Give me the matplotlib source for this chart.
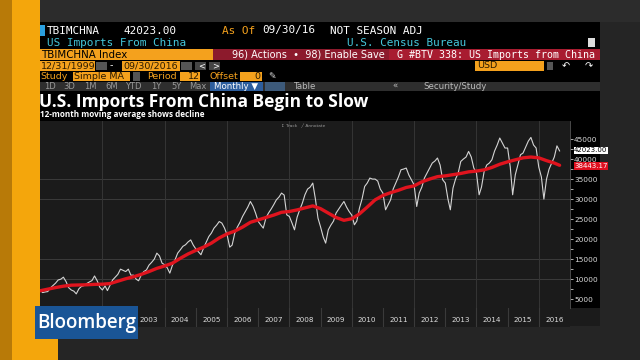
import matplotlib.pyplot as plt
import matplotlib.dates as mdates
import numpy as np
import pandas as pd
from matplotlib.patches import Rectangle

# monthly US imports from China (mn USD), Jan 2000 - Sep 2016
imp_2000 = [7300, 6650, 6800, 6900, 7800, 8400, 9000, 9800, 10000, 10500, 9400, 7900]
imp_2001 = [7300, 7000, 6325, 7600, 8200, 8400, 8900, 9300, 9650, 10800, 9600, 8000]
imp_2002 = [7300, 8300, 7150, 8500, 9800, 10500, 11200, 12500, 12200, 11900, 12500, 11000]
imp_2003 = [11000, 10000, 9600, 11000, 11900, 12300, 13500, 14200, 15000, 16500, 15800, 14000]
imp_2004 = [13600, 12800, 11500, 13500, 14800, 16500, 17300, 18200, 18600, 19300, 19800, 18500]
imp_2005 = [17500, 16800, 16100, 17800, 19200, 20650, 21500, 22750, 23500, 24400, 24000, 22800]
imp_2006 = [21100, 18000, 18500, 21500, 23000, 24200, 25650, 26800, 28000, 29400, 28200, 26500]
imp_2007 = [24400, 23500, 22750, 25250, 26500, 27500, 28575, 29800, 30500, 31500, 31000, 26075]
imp_2008 = [25650, 24000, 22325, 25500, 27325, 29000, 31075, 32500, 33000, 34000, 30000, 25250]
imp_2009 = [23000, 20500, 19000, 22325, 23500, 24500, 26500, 27500, 28500, 29400, 28000, 26900]
imp_2010 = [26000, 23575, 24500, 27750, 30000, 33150, 34000, 35250, 35000, 35000, 34500, 32500]
imp_2011 = [31500, 27325, 28500, 29825, 32500, 34000, 35500, 37325, 37500, 37750, 36000, 34825]
imp_2012 = [33575, 28150, 31500, 33000, 35250, 36500, 37750, 39000, 39500, 40250, 38500, 34825]
imp_2013 = [34000, 30000, 27325, 32750, 35000, 36500, 39400, 40000, 40500, 41900, 40500, 37750]
imp_2014 = [36500, 31075, 33000, 36900, 38500, 39000, 39825, 42000, 43500, 45250, 44000, 42750]
imp_2015 = [42750, 38000, 31075, 36075, 38500, 41075, 41500, 43000, 44500, 45400, 43500, 42750]
imp_2016 = [38000, 35500, 30000, 35000, 37500, 39000, 40500, 43300, 42023]

# 12-month simple MA, read quarterly (Jan/Apr/Jul/Oct) + last value Sep 2016
ma_vals = [7100, 7500, 7900, 8250, 8500, 8550, 8600, 8700,
           8750, 8900, 9500, 10100, 10600, 11200, 11900, 12700,
           13300, 14000, 15200, 16300, 17200, 18000, 19000, 20300,
           21300, 22000, 23000, 24200, 24800, 25400, 26000, 26700,
           26900, 27300, 27800, 28300, 27600, 26500, 25400, 24700,
           25100, 26300, 28000, 29800, 30900, 31600, 32200, 32900,
           33300, 34300, 35000, 35600, 35800, 36100, 36400, 36800,
           37000, 37300, 37900, 38700, 39300, 39800, 40300, 40500,
           40300, 39600, 39000, 38443]

years = list(range(2000, 2017))
shown_years = list(range(2003, 2017))   # 2000-2002 sit under the logo
ygrid = [10000, 15000, 30000, 35000]
yticks = [5000, 10000, 15000, 20000, 25000, 30000, 35000, 40000, 45000]

imports = (imp_2000 + imp_2001 + imp_2002 + imp_2003 + imp_2004 + imp_2005 + imp_2006 + imp_2007
           + imp_2008 + imp_2009 + imp_2010 + imp_2011 + imp_2012 + imp_2013 + imp_2014 + imp_2015 + imp_2016)
months = pd.date_range('2000-01-01', periods=len(imports), freq='MS')
ma_dates = list(pd.date_range('2000-01-01', '2016-07-01', freq='QS-JAN')) + [pd.Timestamp('2016-09-01')]

W, H = 640, 360
fig = plt.figure(figsize=(6.4, 3.6), dpi=100)
fig.patch.set_facecolor('#252525')

# background / terminal layer (pixel coords)
ov = fig.add_axes([0, 0, 1, 1], zorder=0)
ov.set_xlim(0, W)
ov.set_ylim(H, 0)
ov.axis('off')

def box(x0, y0, x1, y1, c, a=ov):
    a.add_patch(Rectangle((x0, y0), x1 - x0, y1 - y0, color=c, lw=0))

def txt(x, y, s, c='white', size=7, fam='DejaVu Sans', a=ov, **kw):
    a.text(x, y, s, color=c, fontsize=size, family=fam, va='center', **kw)

box(0, 0, 12, H, '#b87a08')
box(12, 0, 40, H, '#f4a60c')
box(40, 338, 58, H, '#f4a60c')
box(40, 0, 640, 22, '#2c2c2c')
box(40, 22, 600, 326, 'black')

mono = 'DejaVu Sans Mono'
box(40, 25, 45, 36, '#2aa0e0')
txt(47, 30.5, 'TBIMCHNA', size=7.9, fam=mono)
txt(124, 30.5, '42023.00', size=7.9, fam=mono)
txt(222, 30.5, 'As Of', '#f4a11d', size=7.9, fam=mono)
txt(262, 30.5, '09/30/16', size=7.9, fam=mono)
txt(330, 30.5, 'NOT SEASON ADJ', size=7.9, fam=mono)
txt(47, 43, 'US Imports From China', '#45c8dc', size=7.9, fam=mono)
txt(347, 43, 'U.S. Census Bureau', '#45c8dc', size=7.9, fam=mono)
box(588, 38, 595, 47, '#dddddd')

box(40, 49, 213, 60, '#f4a11d')
box(213, 49, 600, 60, '#8c1a2c')
box(389, 49, 600, 60, '#a81c30')
txt(41, 54.5, 'TBIMCHNA Index', 'black', size=7.4)
txt(232, 54.5, '96) Actions  \u2022  98) Enable Save', size=7)
txt(397, 54.5, 'G #BTV 338: US Imports from China', size=7.2, fam=mono)

box(40, 61, 95, 71, '#f4a11d')
txt(41, 66, '12/31/1999', '#2a1a00', size=6.8)
box(96, 62, 107, 70, '#555555')
txt(110, 66, '-', size=6.8)
box(122, 61, 180, 71, '#f4a11d')
txt(123, 66, '09/30/2016', '#2a1a00', size=6.8)
box(181, 62, 192, 70, '#555555')
box(195, 62, 206, 70, '#444444')
box(209, 62, 220, 70, '#444444')
txt(198, 66, '<', size=6)
txt(212, 66, '>', size=6)
box(475, 61, 544, 71, '#f4a11d')
txt(477, 66, 'USD', '#2a1a00', size=6.8)
box(547, 62, 553, 70, '#555555')
txt(562, 66, '\u21b6', size=7)
txt(585, 66, '\u21b7', size=7)

txt(40, 76.5, 'Study', '#f4a11d', size=6.8)
box(73, 72, 130, 81, '#f4a11d')
txt(74, 76.5, 'Simple MA', '#2a1a00', size=6.8)
box(133, 72, 140, 81, '#555555')
txt(147, 76.5, 'Period', '#f4a11d', size=6.8)
box(180, 72, 200, 81, '#f4a11d')
txt(188, 76.5, '12', '#2a1a00', size=6.8)
txt(209, 76.5, 'Offset', '#f4a11d', size=6.8)
box(240, 72, 262, 81, '#f4a11d')
txt(254, 76.5, '0', '#2a1a00', size=6.8)
txt(268, 76.5, '\u270e', '#dddddd', size=6.5)

box(40, 82, 600, 91, '#2e2e2e')
for x, s in zip([44, 63, 84, 105, 125, 151, 171, 189], ['1D', '3D', '1M', '6M', 'YTD', '1Y', '5Y', 'Max']):
    txt(x, 86.5, s, '#9a9a9a', size=6)
box(210, 82, 263, 91, '#2d5e9e')
txt(214, 86.5, 'Monthly \u25bc', size=6.2)
box(265, 82, 285, 91, '#3d5a7a')
txt(294, 86.5, 'Table', '#bbbbbb', size=6.2)
txt(392, 86.5, '\u00ab', '#bbbbbb', size=6.2)
txt(423, 86.5, 'Security/Study', '#bbbbbb', size=6.2)

txt(39, 102, 'U.S. Imports From China Begin to Slow', size=12.5, fam='Open Sans', fontweight='bold')
txt(40, 114.5, '12-month moving average shows decline', size=5.9, fam='Open Sans', fontweight='bold')

box(570, 118, 600, 309, 'black')
box(570, 308, 600, 326, '#1b1b1b')

# chart
ax = fig.add_axes([40 / W, (H - 308) / H, 530 / W, (308 - 121) / H], zorder=2)
ax.set_facecolor('#1b1b1b')
for y in ygrid:
    ax.axhline(y, color='#3c3c3c', lw=0.7)
for yr in years[2::2]:
    ax.axvline(pd.Timestamp(f'{yr}-01-01'), color='#353535', lw=0.7)
ax.plot(months, imports, color='#d4d4d4', lw=0.8)
ax.plot(ma_dates, ma_vals, color='#e0141e', lw=2.4, solid_capstyle='round')
ax.set_xlim(pd.Timestamp('2000-01-01'), pd.Timestamp('2017-01-01'))
ax.set_ylim(2800, 49500)
ax.yaxis.tick_right()
ax.set_yticks(yticks)
ax.set_yticks(np.array(yticks[:-1]) + 2500, minor=True)
ax.tick_params(axis='y', which='both', direction='out', length=2, width=0.6, color='#cccccc',
               labelcolor='#d8d8d8', labelsize=5.3, pad=1)
ax.set_xticks([])
for s in ax.spines.values():
    s.set_visible(False)
ax.spines['right'].set_visible(True)
ax.spines['right'].set_color('#555555')
ax.spines['right'].set_linewidth(0.6)
ax.text(0.455, 0.985, '\u2195 Track   \u2571 Annotate', transform=ax.transAxes, fontsize=3.2,
        color='#999999', va='top')

ax.annotate('42023.00', xy=(1.0, imports[-1]), xycoords=('axes fraction', 'data'),
            xytext=(3, 0.5), textcoords='offset points', fontsize=5, color='black', va='center',
            bbox=dict(boxstyle='square,pad=0.08', fc='white', ec='none'), annotation_clip=False)
ax.annotate('38443.17', xy=(1.0, ma_vals[-1]), xycoords=('axes fraction', 'data'),
            xytext=(3, -0.5), textcoords='offset points', fontsize=5, color='white', va='center',
            bbox=dict(boxstyle='square,pad=0.08', fc='#e01020', ec='none'), annotation_clip=False)

# year band below chart
axb = fig.add_axes([40 / W, (H - 327) / H, 530 / W, 19 / H], zorder=2, sharex=ax)
axb.set_facecolor('#1b1b1b')
axb.set_ylim(0, 1)
for yr in years:
    axb.axvline(pd.Timestamp(f'{yr}-01-01'), color='#3a3a3a', lw=0.8)
for yr in shown_years:
    axb.text(pd.Timestamp(f'{yr}-07-01'), 0.35, str(yr), color='#dddddd', fontsize=5.2,
             ha='center', va='center')
axb.set_yticks([])
axb.tick_params(axis='x', which='both', length=0, labelbottom=False)
for s in axb.spines.values():
    s.set_visible(False)

# logo on top
top = fig.add_axes([0, 0, 1, 1], zorder=5)
top.set_xlim(0, W)
top.set_ylim(H, 0)
top.axis('off')
box(35, 306, 138, 339, '#1a5596', a=top)
top.text(86.5, 323, 'Bloomberg', color='white', fontsize=13.5, family='Open Sans',
         fontweight='semibold', ha='center', va='center')

fig.savefig('out.png', dpi=100, facecolor=fig.get_facecolor())
